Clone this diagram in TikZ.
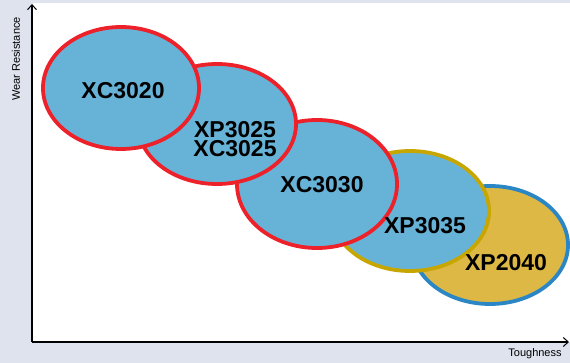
\documentclass[tikz,border=0pt]{standalone}
\usepackage{fontspec}
\setmainfont{Liberation Sans}
\usetikzlibrary{arrows.meta}
\definecolor{bgc}{HTML}{DFE3EE}
\definecolor{fillblue}{HTML}{67B3D8}
\definecolor{redb}{HTML}{EC2129}
\definecolor{goldb}{HTML}{C8A600}
\definecolor{goldf}{HTML}{DEB844}
\definecolor{blueb}{HTML}{2A86C4}
\tikzset{
  grade/.style={line width=3.8pt},
  lbl/.style={font=\fontsize{23}{19}\selectfont\bfseries, align=center, inner sep=0pt},
  axlbl/.style={font=\fontsize{11}{12}\selectfont, inner sep=0pt},
  axis/.style={line width=1.3pt, -{Straight Barb[length=5pt,width=9pt,line width=1pt]}}
}
\begin{document}
\begin{tikzpicture}[x=1pt,y=-1pt]
\fill[bgc] (0,0) rectangle (570,363);
\useasboundingbox (0,0) rectangle (570,363);
\fill[white] (33,3) rectangle (570,342);
% ellipses, back to front
\draw[grade, draw=blueb, fill=goldf] (490,245) ellipse [x radius=78, y radius=59];
\draw[grade, draw=goldb, fill=fillblue] (410,211) ellipse [x radius=79, y radius=60];
\draw[grade, draw=redb, fill=fillblue] (317,184) ellipse [x radius=80, y radius=64];
\draw[grade, draw=redb, fill=fillblue] (217,124) ellipse [x radius=79, y radius=60];
\draw[grade, draw=redb, fill=fillblue] (121,88) ellipse [x radius=78, y radius=61];
% labels
\node[lbl] (n1) at (123,91) {XC3020};
\node[lbl] (n2) at (235,139) {XP3025\\XC3025};
\node[lbl] (n3) at (322,185) {XC3030};
\node[lbl] (n4) at (425,226) {XP3035};
\node[lbl] (n5) at (506,263) {XP2040};
% axes
\coordinate (o) at (32,342);
\coordinate (ytop) at (32,4);
\coordinate (xend) at (569,342);
\draw[axis] (o) -- (ytop);
\draw[axis] (o) -- (xend);
\node[axlbl, rotate=90] (wr) at (16,59) {Wear Resistance};
\node[axlbl] (tg) at (535,354) {Toughness};
\end{tikzpicture}
\end{document}
